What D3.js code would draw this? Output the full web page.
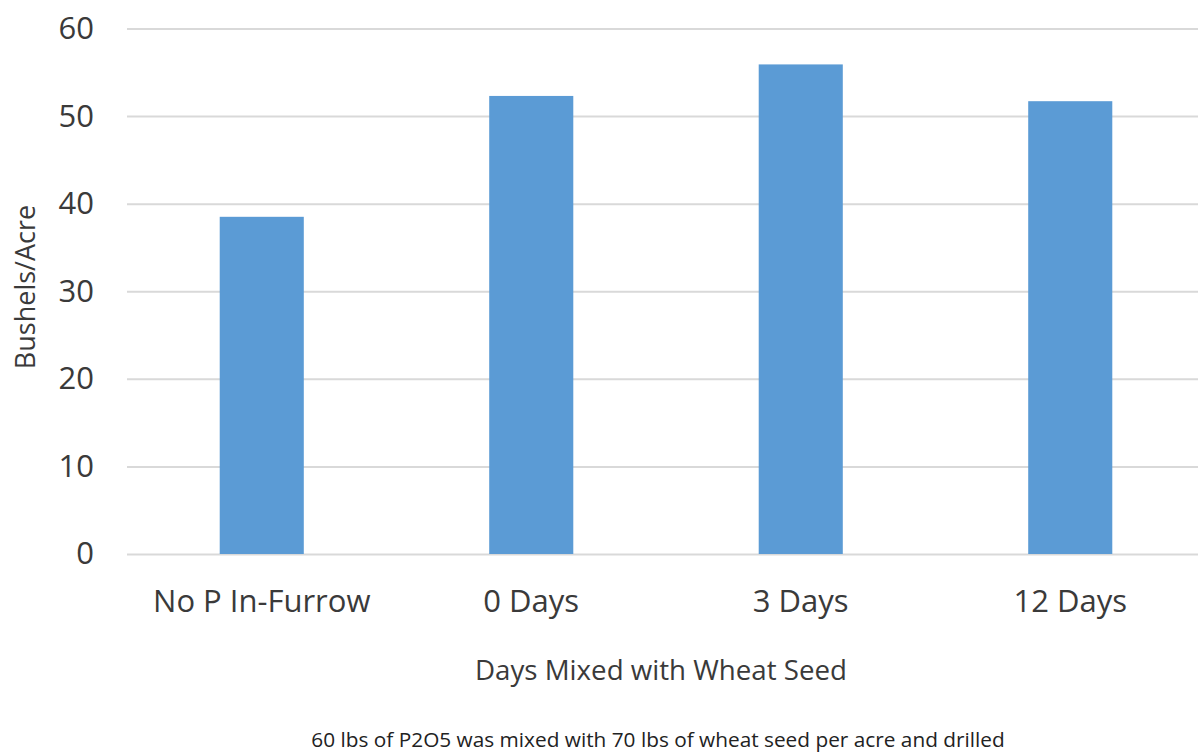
<!DOCTYPE html>
<html>
<head>
<meta charset="utf-8">
<script src="https://cdn.jsdelivr.net/npm/d3@7"></script>
<style>
  html, body { margin: 0; padding: 0; background: #fff; }
  svg { display: block; }
  svg text { font-family: "Open Sans", "Noto Sans", sans-serif; }
</style>
</head>
<body>
<svg id="chart" width="1198" height="754"></svg>
<script>
// Wheat yield by days the P fertilizer was mixed with seed
const categories = ["No P In-Furrow", "0 Days", "3 Days", "12 Days"];
const yields = [38.5, 52.3, 55.9, 51.7];
const yTicks = [0, 10, 20, 30, 40, 50, 60];

const svg = d3.select("#chart");
const plot = { left: 127, right: 1205, top: 28.5, bottom: 554 };
const FONT = '"Open Sans", "Noto Sans", sans-serif';

const x = d3.scaleBand()
  .domain(categories)
  .range([plot.left, plot.right])
  .paddingInner(0.688)
  .paddingOuter(0.344);

const y = d3.scaleLinear()
  .domain([0, 60])
  .range([plot.bottom, plot.top]);

// horizontal gridlines with tick labels
const yAxis = d3.axisLeft(y)
  .tickValues(yTicks)
  .tickSize(-(plot.right - plot.left))
  .tickPadding(33)
  .tickFormat(d3.format("d"));

const gy = svg.append("g")
  .attr("transform", `translate(${plot.left},0)`)
  .call(yAxis)
  .attr("font-family", FONT);
gy.select(".domain").remove();
gy.selectAll(".tick line").attr("stroke", "#d9d9d9").attr("stroke-width", 2);
gy.selectAll(".tick text")
  .attr("fill", "#3a3a3a")
  .style("font-size", "31px");

// bars
svg.append("g").selectAll("rect")
  .data(categories)
  .join("rect")
  .attr("x", d => x(d))
  .attr("width", x.bandwidth())
  .attr("y", (d, i) => y(yields[i]))
  .attr("height", (d, i) => y(0) - y(yields[i]))
  .attr("fill", "#5b9bd5");

// category labels
const xAxis = d3.axisBottom(x).tickSize(0).tickPadding(36);
const gx = svg.append("g")
  .attr("transform", `translate(0,${plot.bottom})`)
  .call(xAxis)
  .attr("font-family", FONT);
gx.select(".domain").remove();
gx.selectAll(".tick text")
  .attr("fill", "#3a3a3a")
  .style("font-size", "31px");

// axis titles and note
svg.append("text")
  .attr("x", 661)
  .attr("y", 680)
  .attr("text-anchor", "middle")
  .attr("fill", "#3a3a3a")
  .style("font-size", "27.7px")
  .text("Days Mixed with Wheat Seed");

svg.append("text")
  .attr("transform", "translate(35,287) rotate(-90)")
  .attr("text-anchor", "middle")
  .attr("fill", "#3a3a3a")
  .style("font-size", "27px")
  .text("Bushels/Acre");

svg.append("text")
  .attr("x", 658)
  .attr("y", 747)
  .attr("text-anchor", "middle")
  .attr("fill", "#222")
  .style("font-size", "20.8px")
  .text("60 lbs of P2O5 was mixed with 70 lbs of wheat seed per acre and drilled");
</script>
</body>
</html>
